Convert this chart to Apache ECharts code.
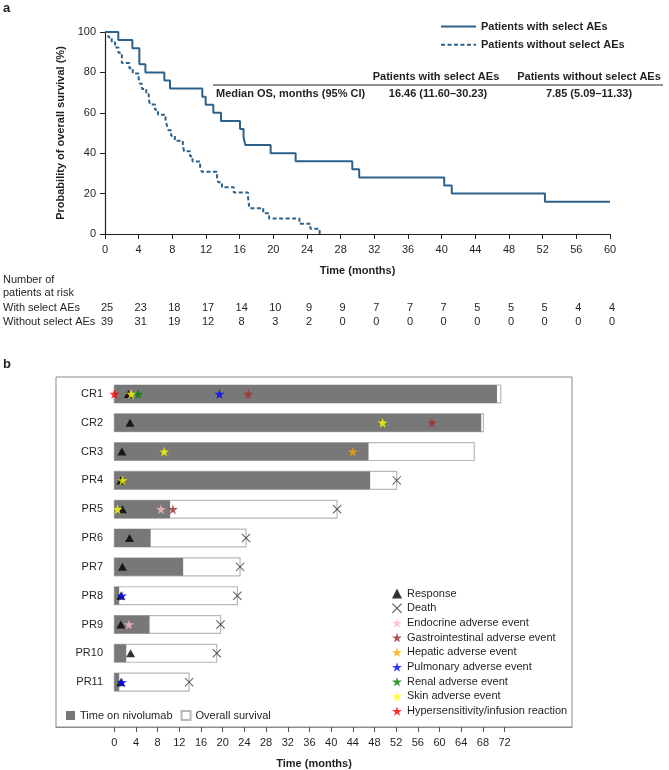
<!DOCTYPE html>
<html>
<head>
<meta charset="utf-8">
<script src="https://cdn.jsdelivr.net/npm/echarts@6/dist/echarts.min.js"></script>
<style>
  html, body { margin: 0; padding: 0; background: #fff; }
  #chart { width: 669px; height: 770px; }
</style>
</head>
<body>
<div id="chart"></div>
<script>
// ---- panel a: Kaplan-Meier data (time in months, survival in %) ----
const withTimes = [0, 1.58, 3.25, 4.08, 4.8, 7.05, 7.72, 11.56, 11.96, 12.87, 13.78, 16.04, 16.46, 16.67, 19.68, 22.65, 29.38, 30.2, 40.3, 41.2, 52.27, 60];
const withSurv = [100, 96, 92, 84, 80, 76, 72, 68, 64, 60, 56, 52, 48, 44, 40, 36, 32, 28, 24, 20, 16, 16];
const withoutTimes = [0, 0.4, 0.8, 1.2, 1.6, 2.0, 2.9, 3.3, 4.0, 4.15, 4.4, 4.9, 5.2, 5.35, 5.95, 6.3, 7.2, 7.35, 7.55, 7.85, 8.3, 9.25, 9.4, 10.1, 10.4, 11.3, 11.5, 13.3, 13.45, 13.9, 15.3, 17.0, 17.15, 18.8, 19.5, 23.1, 24.4, 25.5];
const withoutSurv = [100, 97.4, 94.9, 92.3, 89.7, 84.6, 82.1, 79.5, 76.9, 74.4, 71.8, 69.2, 66.7, 64.1, 61.5, 59.0, 56.4, 53.8, 51.3, 48.7, 46.2, 43.6, 41.0, 38.5, 35.9, 33.3, 30.8, 28.2, 25.6, 23.1, 20.5, 17.9, 12.8, 10.3, 7.7, 5.1, 2.6, 0];

// patients at risk
const riskTimes = [0, 4, 8, 12, 16, 20, 24, 28, 32, 36, 40, 44, 48, 52, 56, 60];
const riskWith = [25, 23, 18, 17, 14, 10, 9, 9, 7, 7, 7, 5, 5, 5, 4, 4];
const riskWithout = [39, 31, 19, 12, 8, 3, 2, 0, 0, 0, 0, 0, 0, 0, 0, 0];
const riskRows = ['With select AEs', 'Without select AEs'];

// ---- panel b: swimmer plot ----
const patients = ['CR1', 'CR2', 'CR3', 'PR4', 'PR5', 'PR6', 'PR7', 'PR8', 'PR9', 'PR10', 'PR11'];
const nivoEnd = [70.6, 67.7, 46.9, 47.2, 10.3, 6.7, 12.7, 0.9, 6.5, 2.2, 0.9];
const osEnd = [71.3, 68.1, 66.4, 52.1, 41.1, 24.3, 23.2, 22.7, 19.6, 18.9, 13.8];
const bTicks = [0, 4, 8, 12, 16, 20, 24, 28, 32, 36, 40, 44, 48, 52, 56, 60, 64, 68, 72];

// events: [time, patient index]
const response = [[2.6, 0], [2.9, 1], [1.4, 2], [1.2, 3], [1.5, 4], [2.8, 5], [1.5, 6], [1.2, 7], [1.2, 8], [3.0, 9], [1.2, 10]];
const death = [[52.1, 3], [41.1, 4], [24.3, 5], [23.2, 6], [22.7, 7], [19.6, 8], [18.9, 9], [13.8, 10]];
const endocrine = [[8.6, 4], [2.7, 8]];
const gastro = [[24.7, 0], [58.6, 1], [10.8, 4]];
const hepatic = [[44.0, 2]];
const pulmonary = [[19.4, 0], [1.4, 7], [1.4, 10]];
const renal = [[4.4, 0]];
const skin = [[3.1, 0], [49.5, 1], [9.2, 2], [1.5, 3], [0.6, 4]];
const hyper = [[0, 0]];

const FONT = '"Liberation Sans", Arial, sans-serif';
const FS = 11;
const INK = '#231f20';
const KM = '#2d6189';
const STAR = 'path://M50,0L61,35L98,35L68,57L79,91L50,70L21,91L32,57L2,35L39,35Z';
const CROSS = 'path://M0,0.8L0.8,0L5,4.2L9.2,0L10,0.8L5.8,5L10,9.2L9.2,10L5,5.8L0.8,10L0,9.2L4.2,5Z';

const zip = (a, b) => a.map((v, i) => [v, b[i]]);

const chart = echarts.init(document.getElementById('chart'));

function barSeries(name, ends, fill, stroke) {
  return {
    name: name,
    type: 'custom',
    xAxisIndex: 1,
    yAxisIndex: 1,
    z: 2,
    itemStyle: { color: fill, borderColor: stroke || fill, borderWidth: stroke ? 1 : 0 },
    data: ends.map((e, i) => [e, i]),
    renderItem: function (params, api) {
      const p0 = api.coord([0, api.value(1)]);
      const p1 = api.coord([api.value(0), api.value(1)]);
      const h = api.size([0, 1])[1] * 0.62;
      return {
        type: 'rect',
        shape: { x: p0[0], y: p0[1] - h / 2, width: p1[0] - p0[0], height: h },
        style: { fill: fill, stroke: stroke || null, lineWidth: stroke ? 1.2 : 0 }
      };
    }
  };
}

function eventSeries(name, data, symbol, color, size) {
  return {
    name: name,
    type: 'scatter',
    xAxisIndex: 1,
    yAxisIndex: 1,
    z: 5,
    symbol: symbol,
    symbolSize: size,
    itemStyle: { color: color },
    data: data
  };
}

function riskSeries(values, row) {
  return {
    type: 'custom',
    xAxisIndex: 2,
    yAxisIndex: 2,
    data: riskTimes.map((t, i) => [t, row, values[i]]),
    renderItem: function (params, api) {
      const p = api.coord([api.value(0), api.value(1)]);
      return {
        type: 'text',
        x: p[0] + 2,
        y: p[1],
        style: { text: String(api.value(2)), align: 'center', verticalAlign: 'middle', fontSize: FS, fontFamily: FONT, fill: INK }
      };
    }
  };
}

const boldText = (x, y, text, align) => ({
  type: 'text', x: x, y: y,
  style: { text: text, font: 'bold ' + FS + 'px ' + FONT, fill: INK, align: align, verticalAlign: 'middle' }
});

const option = {
  animation: false,
  textStyle: { fontFamily: FONT, color: INK },
  grid: [
    { left: 105, top: 32, width: 505, height: 202 },
    { left: 56, top: 377, width: 516, height: 351, show: true, borderColor: '#8c8c8c', borderWidth: 1 },
    { left: 105, top: 301, width: 505, height: 28 }
  ],
  xAxis: [
    {
      gridIndex: 0, type: 'value', min: 0, max: 60, interval: 4,
      axisLine: { lineStyle: { color: INK, width: 1.2 } },
      axisTick: { show: true, length: 5, lineStyle: { color: INK } },
      axisLabel: { fontSize: FS, color: INK, fontFamily: FONT, margin: 10 },
      splitLine: { show: false },
      name: 'Time (months)', nameLocation: 'middle', nameGap: 31,
      nameTextStyle: { fontWeight: 'bold', fontSize: FS, color: INK, fontFamily: FONT }
    },
    {
      gridIndex: 1, type: 'value', min: -10.76, max: 84.44,
      axisLine: { onZero: false, lineStyle: { color: '#8c8c8c', width: 1.2 } },
      axisTick: { show: true, length: 5, customValues: bTicks, lineStyle: { color: '#555' } },
      axisLabel: { fontSize: FS, color: INK, fontFamily: FONT, customValues: bTicks, margin: 10 },
      splitLine: { show: false },
      name: 'Time (months)', nameLocation: 'middle', nameGap: 31,
      nameTextStyle: { fontWeight: 'bold', fontSize: FS, color: INK, fontFamily: FONT }
    },
    { gridIndex: 2, type: 'value', min: 0, max: 60, show: false }
  ],
  yAxis: [
    {
      gridIndex: 0, type: 'value', min: 0, max: 100, interval: 20,
      axisLine: { show: true, lineStyle: { color: INK, width: 1.2 } },
      axisTick: { show: true, length: 5, lineStyle: { color: INK } },
      axisLabel: { fontSize: FS, color: INK, fontFamily: FONT, margin: 9 },
      splitLine: { show: false },
      name: 'Probability of overall survival (%)', nameLocation: 'middle', nameGap: 34,
      nameTextStyle: { fontWeight: 'bold', fontSize: FS, color: INK, fontFamily: FONT }
    },
    {
      gridIndex: 1, type: 'value', inverse: true, min: -0.588, max: 11.557,
      offset: -52,
      axisLine: { show: false, onZero: false },
      axisTick: { show: false },
      splitLine: { show: false },
      axisLabel: {
        customValues: patients.map((p, i) => i),
        formatter: v => patients[Math.round(v)],
        fontSize: FS, color: INK, fontFamily: FONT, margin: 5
      }
    },
    {
      gridIndex: 2, type: 'category', data: riskRows, inverse: true,
      axisLine: { show: false },
      axisTick: { show: false },
      axisLabel: { interval: 0, align: 'left', margin: 102, fontSize: FS, color: INK, fontFamily: FONT }
    }
  ],
  legend: [
    {
      data: ['Patients with select AEs', 'Patients without select AEs'],
      orient: 'vertical', left: 435, top: 16, itemWidth: 35, itemHeight: 14, itemGap: 7,
      selectedMode: false,
      itemStyle: { opacity: 0 },
      textStyle: { fontWeight: 'bold', fontSize: FS, color: INK, fontFamily: FONT }
    },
    {
      data: ['Response', 'Death', 'Endocrine adverse event', 'Gastrointestinal adverse event',
        'Hepatic adverse event', 'Pulmonary adverse event', 'Renal adverse event',
        'Skin adverse event', 'Hypersensitivity/infusion reaction'],
      orient: 'vertical', left: 387, top: 583, itemWidth: 10, itemHeight: 10, itemGap: 3.7,
      selectedMode: false,
      textStyle: { fontSize: FS, color: INK, fontFamily: FONT }
    },
    {
      data: ['Time on nivolumab', 'Overall survival'],
      orient: 'horizontal', left: 61, top: 705, itemWidth: 9, itemHeight: 9, itemGap: 8,
      icon: 'rect', selectedMode: false,
      textStyle: { fontSize: FS, color: INK, fontFamily: FONT }
    }
  ],
  graphic: [
    { type: 'text', left: 3, top: 2, style: { text: 'a', font: 'bold 13px ' + FONT, fill: INK } },
    { type: 'text', left: 3, top: 358, style: { text: 'b', font: 'bold 13px ' + FONT, fill: INK } },
    { type: 'line', shape: { x1: 213, y1: 85, x2: 663, y2: 85 }, style: { stroke: INK, lineWidth: 1 } },
    boldText(436, 77, 'Patients with select AEs', 'center'),
    boldText(589, 77, 'Patients without select AEs', 'center'),
    boldText(216, 94, 'Median OS, months (95% CI)', 'left'),
    boldText(438, 94, '16.46 (11.60–30.23)', 'center'),
    boldText(589, 94, '7.85 (5.09–11.33)', 'center'),
    { type: 'text', x: 3, y: 280, style: { text: 'Number of', font: FS + 'px ' + FONT, fill: INK, verticalAlign: 'middle' } },
    { type: 'text', x: 3, y: 293, style: { text: 'patients at risk', font: FS + 'px ' + FONT, fill: INK, verticalAlign: 'middle' } }
  ],
  series: [
    {
      name: 'Patients with select AEs', type: 'line', step: 'end',
      xAxisIndex: 0, yAxisIndex: 0, symbol: 'none', showSymbol: false,
      lineStyle: { color: KM, width: 2 }, itemStyle: { color: KM },
      data: zip(withTimes, withSurv)
    },
    {
      name: 'Patients without select AEs', type: 'line', step: 'end',
      xAxisIndex: 0, yAxisIndex: 0, symbol: 'none', showSymbol: false,
      lineStyle: { color: KM, width: 2, type: [4, 2.5] }, itemStyle: { color: KM },
      data: zip(withoutTimes, withoutSurv)
    },
    riskSeries(riskWith, 0),
    riskSeries(riskWithout, 1),
    barSeries('Overall survival', osEnd, '#ffffff', '#b8b8b8'),
    barSeries('Time on nivolumab', nivoEnd, '#787878', null),
    eventSeries('Response', response, 'triangle', '#000000', [9, 8]),
    eventSeries('Death', death, CROSS, '#333333', 9),
    eventSeries('Endocrine adverse event', endocrine, STAR, '#ffb6c1', 10),
    eventSeries('Gastrointestinal adverse event', gastro, STAR, '#a52a2a', 10),
    eventSeries('Hepatic adverse event', hepatic, STAR, '#ffa500', 10),
    eventSeries('Pulmonary adverse event', pulmonary, STAR, '#0000ff', 10),
    eventSeries('Renal adverse event', renal, STAR, '#008000', 10),
    eventSeries('Skin adverse event', skin, STAR, '#ffff00', 10),
    eventSeries('Hypersensitivity/infusion reaction', hyper, STAR, '#ff0000', 10)
  ]
};

chart.setOption(option);
</script>
</body>
</html>
